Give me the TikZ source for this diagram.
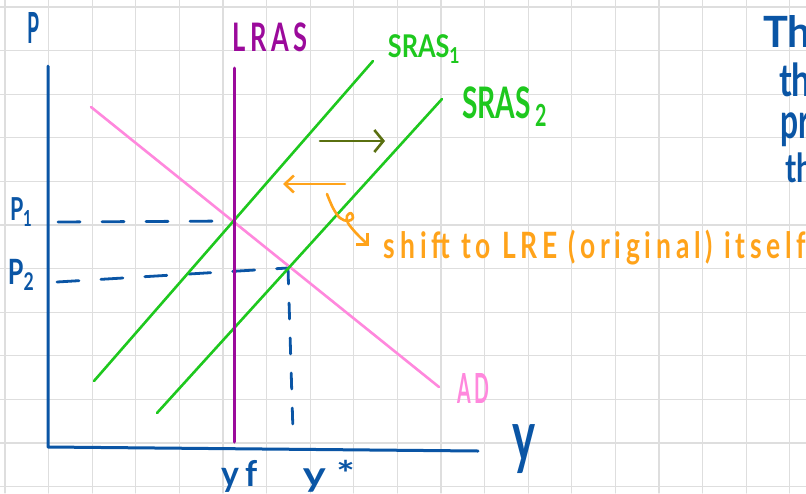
\documentclass[tikz,border=0pt]{standalone}
\usepackage{fontspec}
\usepackage{graphicx}
\usetikzlibrary{arrows.meta}
\newfontfamily\hw{Lato}
\newfontfamily\hwsp[LetterSpace=18]{Lato}
\definecolor{gridc}{HTML}{DEDEDE}
\definecolor{axblue}{HTML}{0A55A5}
\definecolor{lrasc}{HTML}{9B0A9B}
\definecolor{srasc}{HTML}{1EC81E}
\definecolor{adc}{HTML}{FF88DD}
\definecolor{orangec}{HTML}{FFA31A}
\definecolor{olivec}{HTML}{5A7010}
\newcommand{\fitto}[3]{\resizebox*{#1}{#2}{#3}}
\begin{document}
\begin{tikzpicture}[x=1pt,y=-1pt,line cap=round,line join=round,
  gridline/.style={draw=gridc,line width=1.3pt},
  axisline/.style={draw=axblue,line width=3pt},
  lrasline/.style={draw=lrasc,line width=3pt},
  srasline/.style={draw=srasc,line width=2.6pt},
  adline/.style={draw=adc,line width=2.6pt},
  guide/.style={draw=axblue,line width=2.8pt,dash pattern=on 22pt off 22pt},
  vguide/.style={draw=axblue,line width=2.8pt,dash pattern=on 16pt off 19pt},
  shiftarrow/.style={line width=2.6pt},
  lbl/.style={inner sep=0pt,outer sep=0pt,anchor=center},
  lblw/.style={inner sep=0pt,outer sep=0pt,anchor=west}
]
\useasboundingbox (0,0) rectangle (806,493);
\fill[white] (0,0) rectangle (806,493);
\clip (0,0) rectangle (806,493);
% grid
\foreach \i in {0,...,18} \draw[gridline] ({5+43.6*\i},0) -- ({5+43.6*\i},493);
\foreach \j in {0,...,11} \draw[gridline] (0,{7+43.6*\j}) -- (806,{7+43.6*\j});
% coordinates
\coordinate (ytop) at (48,66);
\coordinate (origin) at (48,447);
\coordinate (xend) at (478,451);
\coordinate (lrasT) at (234,68);
\coordinate (lrasB) at (234,442);
\coordinate (s1a) at (94,381);
\coordinate (s1b) at (373,61);
\coordinate (s2a) at (157,413);
\coordinate (s2b) at (442,99);
\coordinate (ada) at (91,107);
\coordinate (adb) at (439,387);
\coordinate (E1) at (233,221);
\coordinate (E2) at (288,268);
\coordinate (p1s) at (58,222);
\coordinate (p2s) at (57,282);
\coordinate (vfoot) at (293,432);
\coordinate (ga1) at (320,141);
\coordinate (ga2) at (385,141);
\coordinate (oa1) at (345,184);
\coordinate (oa2) at (283,184);
% dashed guides
\draw[guide] (p1s) -- (E1);
\draw[guide] (p2s) -- (E2);
\draw[vguide] (E2) -- (vfoot);
% curves
\draw[adline] (ada) -- (adb);
\draw[srasline] (s1a) -- (s1b);
\draw[srasline] (s2a) -- (s2b);
\draw[lrasline] (lrasT) -- (lrasB);
\draw[axisline] (ytop) -- (origin) -- (xend);
% arrows
\draw[shiftarrow,draw=olivec,-{Straight Barb[length=9pt,width=22pt]}] (ga1) -- (ga2);
\draw[shiftarrow,draw=orangec,-{Straight Barb[length=9pt,width=17pt]}] (oa1) -- (oa2);
\draw[shiftarrow,draw=orangec,-{Straight Barb[length=8pt,width=16pt]}]
  plot[smooth,tension=0.6] coordinates {(327,194) (333,208) (340,218) (348,221) (353,218) (351,213) (347,216) (348,223) (356,233) (363,240) (369,246)};
% labels
\node[lbl,text=axblue] (lP) at (34,28) {\fitto{12pt}{31pt}{\hw\bfseries P}};
\node[lbl,text=lrasc] (lLRAS) at (270,37.5) {\fitto{75pt}{29pt}{\hwsp\bfseries LRAS}};
\node[lbl,text=srasc] (lS1) at (424.5,49) {\fitto{73pt}{28pt}{\hw\bfseries SRAS\textsubscript{1}}};
\node[lbl,text=srasc] (lS2) at (505,106.5) {\fitto{86pt}{39pt}{\hw\bfseries SRAS\,\textsubscript{2}}};
\node[lbl,text=adc] (lAD) at (473,388) {\fitto{32pt}{30pt}{\hwsp\bfseries AD}};
\node[lbl,text=axblue] (lY) at (523.5,449.5) {\fitto{23pt}{49pt}{\hw\bfseries y}};
\node[lbl,text=axblue] (lyf) at (240,476) {\fitto{36pt}{32pt}{\hwsp\bfseries yf}};
\node[lbl,text=axblue] (lys) at (329,476) {\fitto{52pt}{32pt}{\hw\bfseries y *}};
\node[lbl,text=axblue] (lP1) at (21.5,212) {\fitto{23pt}{28pt}{\hw\bfseries P\textsubscript{1}}};
\node[lbl,text=axblue] (lP2) at (21.5,274.5) {\fitto{27pt}{31pt}{\hw\bfseries P\textsubscript{2}}};
\node[lbl,text=orangec] (lshift) at (595,247.5) {\fitto{422pt}{35pt}{\hwsp\bfseries shift to LRE (original) itself}};
\node[lblw,text=axblue] (r1) at (763,31) {\fitto{48pt}{32pt}{\hw\bfseries Th}};
\node[lblw,text=axblue] (r2) at (779,80) {\fitto{32pt}{34pt}{\hw\bfseries th}};
\node[lblw,text=axblue] (r3) at (780,130) {\fitto{30pt}{34pt}{\hw\bfseries pr}};
\node[lblw,text=axblue] (r4) at (785,168) {\fitto{28pt}{30pt}{\hw\bfseries th}};
\end{tikzpicture}
\end{document}
